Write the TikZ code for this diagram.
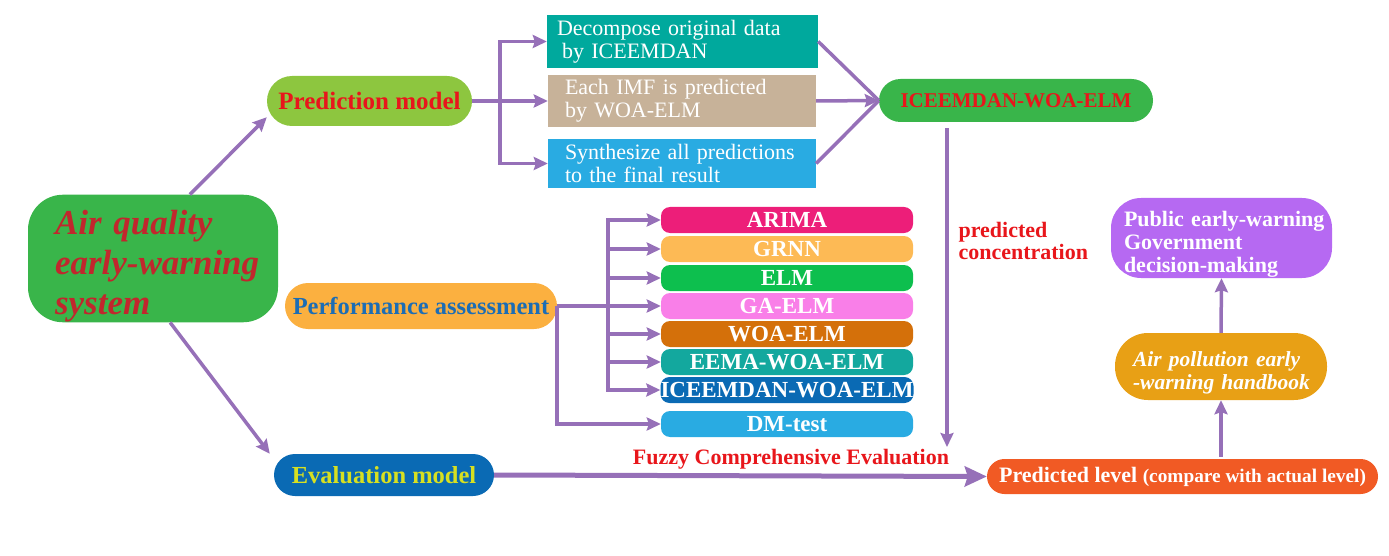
\documentclass[tikz,border=0pt]{standalone}
\usepackage{fontspec}
\setmainfont{Liberation Serif}
\usepackage{xcolor}
\usetikzlibrary{arrows.meta, positioning}

\definecolor{linkpurple}{HTML}{9670B8}
\definecolor{sysgreen}{HTML}{39B54A}
\definecolor{sysred}{HTML}{C1272D}
\definecolor{predgreen}{HTML}{8DC63F}
\definecolor{brightred}{HTML}{E8161B}
\definecolor{perforange}{HTML}{FBB040}
\definecolor{perfblue}{HTML}{1C6DB5}
\definecolor{evalblue}{HTML}{0A6AB4}
\definecolor{evalyellow}{HTML}{D7E021}
\definecolor{decteal}{HTML}{00A99D}
\definecolor{imftan}{HTML}{C7B299}
\definecolor{synblue}{HTML}{29ABE2}
\definecolor{arimapink}{HTML}{ED1E79}
\definecolor{grnnorange}{HTML}{FDBA55}
\definecolor{elmgreen}{HTML}{0DBF4E}
\definecolor{gapink}{HTML}{F97FE8}
\definecolor{woaorange}{HTML}{D4700A}
\definecolor{eemateal}{HTML}{13A89E}
\definecolor{pubpurple}{HTML}{B669F2}
\definecolor{hborange}{HTML}{E8A015}
\definecolor{levelred}{HTML}{F15A24}

\begin{document}
\begin{tikzpicture}[x=1pt, y=-1pt,
        pill/.style={rectangle, inner sep=0pt, text centered},
        stepbox/.style={rectangle, inner ysep=0pt, align=left, text=white, font=\fontsize{22}{23}\selectfont},
        modelbox/.style={rectangle, rounded corners=9pt, minimum width=252pt, minimum height=26pt, inner sep=0pt, text=white, font=\fontsize{23}{23}\selectfont\bfseries},
        link/.style={draw=linkpurple, line width=3.5pt},
        arr/.style={link, -{Stealth[length=14pt, width=13pt, inset=2pt]}}
    ]
        \useasboundingbox (0,0) rectangle (1389,556);

        % ================= MAIN SYSTEM =================
        \node[pill, fill=sysgreen, rounded corners=35pt, minimum width=250pt, minimum height=123pt,
              text width=196pt, align=left, text=sysred, font=\fontsize{35}{40}\selectfont\bfseries\itshape]
              (system) at (153, 258.5) {\rule{0pt}{40pt}\mbox{Air quality}\\\mbox{early-warning}\\\mbox{system}};

        \node[pill, fill=predgreen, rounded corners=25pt, minimum width=205pt, minimum height=50pt,
              text=brightred, font=\fontsize{25}{25}\selectfont\bfseries] (pred) at (369.5, 101) {Prediction model};
        \node[pill, fill=perforange, rounded corners=23pt, minimum width=272pt, minimum height=46pt,
              text=perfblue, font=\fontsize{24.5}{25}\selectfont\bfseries] (perf) at (421, 306) {Performance assessment};
        \node[pill, fill=evalblue, rounded corners=21pt, minimum width=220pt, minimum height=42pt,
              text=evalyellow, font=\fontsize{24.5}{25}\selectfont\bfseries] (eval) at (384, 475) {Evaluation model};

        \draw[arr] (system.60) -- ([yshift=9pt]pred.south west);
        \draw[arr] (system.-75) -- ([xshift=-4pt]eval.north west);

        % ================= PREDICTION STEPS =================
        \node[stepbox, fill=decteal, inner xsep=10pt, text width=251pt, minimum height=53pt]
              (decomp) at (682.5, 41.5) {Decompose original data\\\hspace*{5pt}by ICEEMDAN};
        \node[stepbox, fill=imftan, inner xsep=17pt, text width=234pt, minimum height=52pt]
              (imf) at (682, 101) {Each IMF is predicted\\by WOA-ELM};
        \node[stepbox, fill=synblue, inner xsep=17pt, text width=234pt, minimum height=49pt]
              (synth) at (682, 163.5) {Synthesize all predictions\\to the final result};

        \node[pill, fill=sysgreen, rounded corners=21.5pt, minimum width=274pt, minimum height=43pt,
              text=brightred, font=\fontsize{21}{21}\selectfont\bfseries] (hybrid) at (1016, 100.5) {ICEEMDAN-WOA-ELM};

        \coordinate (predfork) at (500, 101);
        \draw[link] (pred.east) -- (predfork);
        \draw[arr] (predfork) |- (decomp.west);
        \draw[arr] (predfork) |- (imf.west);
        \draw[arr] (predfork) |- (synth.west);

        \draw[link] (decomp.east) -- (hybrid.west);
        \draw[link] (synth.east) -- (hybrid.west);
        \draw[arr] (imf.east) -- (hybrid.west);

        % ================= COMPARED MODELS =================
        \node[modelbox, fill=arimapink] (arima) at (787, 220) {ARIMA};
        \node[modelbox, fill=grnnorange] (grnn) at (787, 249) {GRNN};
        \node[modelbox, fill=elmgreen] (elm) at (787, 278) {ELM};
        \node[modelbox, fill=gapink] (gaelm) at (787, 306) {GA-ELM};
        \node[modelbox, fill=woaorange] (woaelm) at (787, 334) {WOA-ELM};
        \node[modelbox, fill=eemateal] (eema) at (787, 362) {EEMA-WOA-ELM};
        \node[modelbox, fill=evalblue] (iceem) at (787, 390) {ICEEMDAN-WOA-ELM};
        \node[modelbox, fill=synblue] (dmtest) at (787, 424) {DM-test};

        \coordinate (perffork) at (608, 306);
        \draw[link] (perf.east) -- (perffork);
        \draw[arr] (perffork) |- (arima.west);
        \draw[arr] (perffork) |- (grnn.west);
        \draw[arr] (perffork) |- (elm.west);
        \draw[arr] (perffork) |- (gaelm.west);
        \draw[arr] (perffork) |- (woaelm.west);
        \draw[arr] (perffork) |- (eema.west);
        \draw[arr] (perffork) |- (iceem.west);
        \draw[arr] (perf.east) |- (dmtest.west);

        % ================= WARNING OUTPUT =================
        \node[pill, fill=levelred, rounded corners=17.5pt, minimum width=391pt, minimum height=35pt,
              text=white, font=\fontsize{22}{24}\selectfont\bfseries] (level) at (1182.5, 476.5)
              {Predicted level {\fontsize{19.3}{20}\selectfont(compare with actual level)}};
        \node[pill, fill=hborange, rounded corners=33pt, minimum width=212pt, minimum height=67pt,
              text width=176pt, align=left, text=white, font=\fontsize{21.5}{23}\selectfont\bfseries\itshape]
              (handbook) at (1221, 366.5) {\rule{0pt}{27pt}\mbox{Air pollution early}\\\mbox{-warning handbook}};
        \node[pill, fill=pubpurple, rounded corners=30pt, minimum width=221pt, minimum height=80pt,
              text width=195pt, align=left, text=white, font=\fontsize{22}{23}\selectfont\bfseries]
              (public) at (1221.5, 238) {\rule{0pt}{28pt}\mbox{Public early-warning}\\\mbox{Government}\\\mbox{decision-making}};

        \coordinate (concend) at (947, 447);
        \draw[arr] ([xshift=-69pt, yshift=-6pt]hybrid.south) -- (concend);
        \node[anchor=west, align=left, text=brightred, font=\fontsize{22}{22}\selectfont\bfseries]
              (conclabel) at (955, 241) {predicted\\concentration};

        \draw[link, line width=5pt, -{Stealth[length=22pt, width=20pt, inset=3pt]}] (eval.east) -- (level.west);
        \node[text=brightred, font=\fontsize{22}{22}\selectfont\bfseries] (fuzzylabel) at (791, 459)
              {Fuzzy Comprehensive Evaluation};

        \draw[arr] ([yshift=2pt]level.north -| handbook.south) -- (handbook.south);
        \draw[arr] (handbook.north) -- (public.south);
    \end{tikzpicture}
\end{document}
